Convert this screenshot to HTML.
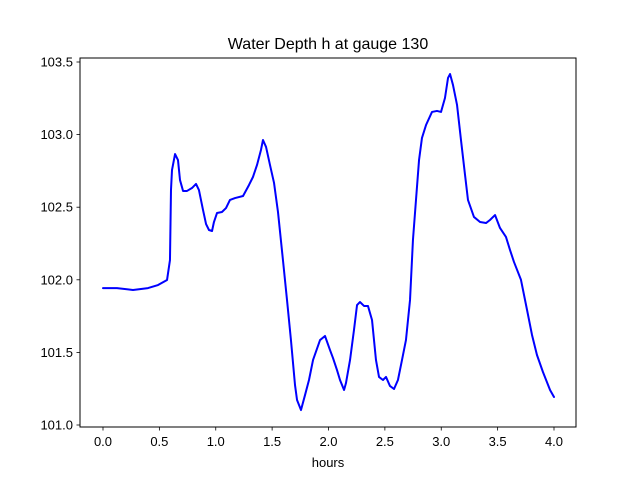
<!DOCTYPE html>
<html><head><meta charset="utf-8"><style>
html,body{margin:0;padding:0;background:#fff}
svg{display:block;font-family:"Liberation Sans","DejaVu Sans",sans-serif}
</style></head><body>
<svg id="chart" width="640" height="480" viewBox="0 0 640 480">
<rect width="640" height="480" fill="#fff"/>
<text x="328" y="49" text-anchor="middle" font-size="16">Water Depth h at gauge 130</text>
<g id="xticks"></g>
<g id="yticks"></g>
<g id="plot"></g>
<rect x="80" y="58" width="496" height="369" fill="none" stroke="#000" stroke-width="1"/>
<text x="328" y="467" text-anchor="middle" font-size="13">hours</text>
</svg>
<script>
const xTicks=[0.0,0.5,1.0,1.5,2.0,2.5,3.0,3.5,4.0];
const xTickLabels=["0.0","0.5","1.0","1.5","2.0","2.5","3.0","3.5","4.0"];
const yTicks=[101.0,101.5,102.0,102.5,103.0,103.5];
const yTickLabels=["101.0","101.5","102.0","102.5","103.0","103.5"];
const hours=[0.0,0.124,0.266,0.399,0.488,0.568,0.594,0.603,0.612,0.639,0.665,0.683,0.710,0.745,0.789,0.825,0.851,0.887,0.914,0.940,0.967,0.984,1.011,1.055,1.091,1.126,1.171,1.242,1.295,1.330,1.366,1.401,1.419,1.446,1.481,1.517,1.552,1.596,1.632,1.667,1.703,1.721,1.756,1.792,1.827,1.863,1.925,1.969,2.013,2.040,2.075,2.102,2.138,2.155,2.191,2.226,2.253,2.279,2.315,2.350,2.386,2.421,2.448,2.483,2.510,2.545,2.581,2.616,2.652,2.687,2.723,2.749,2.776,2.803,2.829,2.865,2.918,2.962,2.998,3.033,3.060,3.078,3.104,3.140,3.175,3.211,3.237,3.290,3.344,3.397,3.432,3.477,3.521,3.574,3.610,3.645,3.707,3.761,3.805,3.849,3.902,3.965,4.000];
const depth=[101.943,101.943,101.930,101.943,101.964,101.999,102.136,102.618,102.756,102.866,102.825,102.687,102.612,102.612,102.632,102.660,102.618,102.481,102.384,102.343,102.336,102.398,102.460,102.467,102.494,102.550,102.563,102.577,102.653,102.708,102.791,102.894,102.963,102.915,102.791,102.667,102.467,102.136,101.861,101.585,101.275,101.172,101.103,101.207,101.310,101.448,101.585,101.613,101.517,101.461,101.379,101.310,101.241,101.289,101.448,101.654,101.826,101.847,101.820,101.820,101.723,101.448,101.331,101.310,101.331,101.269,101.248,101.310,101.448,101.585,101.861,102.274,102.550,102.825,102.977,103.066,103.156,103.163,103.156,103.252,103.390,103.417,103.342,103.204,102.963,102.722,102.550,102.433,102.398,102.391,102.412,102.446,102.357,102.295,102.205,102.123,102.000,101.792,101.620,101.482,101.365,101.241,101.193];
const NS="http://www.w3.org/2000/svg";
function xs(v){return 103+(v-0)*112.75;}
function ys(v){return 425-(v-101)*145.2;}
function mk(tag,attrs,parent){const e=document.createElementNS(NS,tag);for(const k in attrs)e.setAttribute(k,attrs[k]);parent.appendChild(e);return e;}
const gx=document.getElementById('xticks'),gy=document.getElementById('yticks'),gp=document.getElementById('plot');
xTicks.forEach((t,i)=>{
  const l=mk('line',{x1:xs(t),x2:xs(t),y1:427,y2:430.5,stroke:'#000','stroke-width':0.8},gx);
  
  
  const tx=mk('text',{x:xs(t),y:446,'text-anchor':'middle','font-size':13},gx);
  tx.textContent=xTickLabels[i];
  
  
});
yTicks.forEach((t,i)=>{
  const l=mk('line',{x1:76.5,x2:80,y1:ys(t),y2:ys(t),stroke:'#000','stroke-width':0.8},gy);
  
  
  const tx=mk('text',{x:73,y:ys(t)+4.5,'text-anchor':'end','font-size':13},gy);
  tx.textContent=yTickLabels[i];
  
  
});
const pts=hours.map((h,i)=>xs(h).toFixed(2)+','+ys(depth[i]).toFixed(2)).join(' ');
const pl=mk('polyline',{points:pts,fill:'none',stroke:'#0000ff','stroke-width':2,'stroke-linejoin':'round','stroke-linecap':'round'},gp);


</script>
</body></html>
